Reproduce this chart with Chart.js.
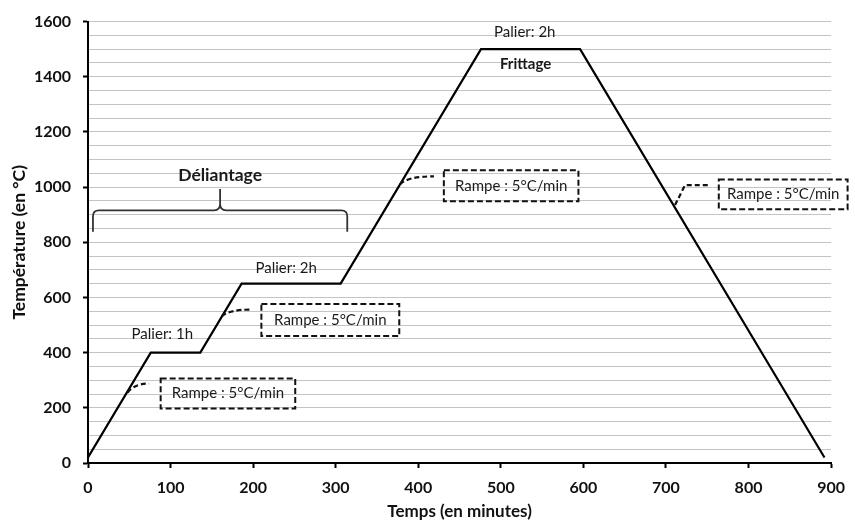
<!DOCTYPE html>
<html lang="fr">
<head>
<meta charset="utf-8">
<title>Cycle thermique</title>
<script src="https://cdn.jsdelivr.net/npm/chart.js@4.4.1/dist/chart.umd.min.js"></script>
<style>
    html, body { margin: 0; padding: 0; background: #fff; }
    #wrap { width: 855px; height: 520px; }
</style>
</head>
<body>
<div id="wrap"><canvas id="cycleChart" width="855" height="520"></canvas></div>
<script>
// Temps (min) et température (°C) du cycle
const timeMinutes = [0, 76, 136, 186, 306, 476, 596, 892];
const temperatures = [20, 400, 400, 650, 650, 1500, 1500, 20];
const xTickValues = [0, 100, 200, 300, 400, 500, 600, 700, 800, 900];
const yTickValues = [0, 200, 400, 600, 800, 1000, 1200, 1400, 1600];

// Annotations (positions in data units)
const notes = [
    { text: 'Palier: 1h', x: 90, y: 467 },
    { text: 'Palier: 2h', x: 240, y: 708 },
    { text: 'Palier: 2h', x: 529, y: 1560 },
    { text: 'Frittage', x: 530, y: 1445, bold: true },
    { text: 'Déliantage', x: 160, y: 1043, bold: true, size: 17.5 }
];
const rampBoxes = [
    { x0: 88, x1: 251, y0: 198, y1: 306, lead: [[48, 255], [56, 288], [74, 288]], curve: true },
    { x0: 210, x1: 377, y0: 460, y1: 576, lead: [[162, 532], [171, 556], [197, 556]], curve: true },
    { x0: 431, x1: 594, y0: 949, y1: 1061, lead: [[378, 1010], [387, 1039], [419, 1039]], curve: true },
    { x0: 764, x1: 920, y0: 920, y1: 1028, lead: [[711, 935], [723, 1007], [751, 1007]], curve: false }
];
const brace = { x0: 6, x1: 314, xc: 160, yTip: 838, yBar: 916, yPeak: 993 };

const annotationsPlugin = {
    id: 'annotations',
    afterDraw(chart) {
        const { ctx, scales: { x, y } } = chart;
        const px = v => x.getPixelForValue(v);
        const py = v => y.getPixelForValue(v);
        ctx.save();
        ctx.textAlign = 'center';
        ctx.textBaseline = 'middle';

        notes.forEach(n => {
            ctx.font = `${n.bold ? 'bold ' : ''}${n.size || 15}px Lato`;
            ctx.fillStyle = '#1a1a1a';
            ctx.fillText(n.text, px(n.x), py(n.y));
        });

        rampBoxes.forEach(b => {
            const l = px(b.x0), r = px(b.x1), t = py(b.y1), btm = py(b.y0);
            ctx.setLineDash([6, 3]);
            ctx.lineWidth = 2;
            ctx.strokeStyle = '#111';
            ctx.strokeRect(l, t, r - l, btm - t);
            ctx.setLineDash([5, 3]);
            ctx.lineWidth = 2.2;
            ctx.beginPath();
            const p = b.lead.map(([a, c]) => [px(a), py(c)]);
            ctx.moveTo(p[0][0], p[0][1]);
            if (b.curve) {
                ctx.quadraticCurveTo(p[1][0], p[1][1], p[2][0], p[2][1]);
            } else {
                ctx.lineTo(p[1][0], p[1][1]);
                ctx.lineTo(p[2][0], p[2][1]);
            }
            ctx.stroke();
            ctx.setLineDash([]);
            ctx.font = '15px Lato';
            ctx.fillStyle = '#1a1a1a';
            ctx.fillText('Rampe : 5°C/min', (l + r) / 2, (t + btm) / 2);
        });

        // accolade du déliantage
        const xl = px(brace.x0), xr = px(brace.x1), xc = px(brace.xc);
        const yTip = py(brace.yTip), yBar = py(brace.yBar), yPeak = py(brace.yPeak);
        const rad = 6;
        ctx.lineWidth = 1.8;
        ctx.strokeStyle = '#333';
        ctx.beginPath();
        ctx.moveTo(xl, yTip);
        ctx.lineTo(xl, yBar + rad);
        ctx.quadraticCurveTo(xl, yBar, xl + rad, yBar);
        ctx.lineTo(xc - rad, yBar);
        ctx.quadraticCurveTo(xc, yBar, xc, yBar - rad);
        ctx.lineTo(xc, yPeak);
        ctx.moveTo(xc, yBar - rad);
        ctx.quadraticCurveTo(xc, yBar, xc + rad, yBar);
        ctx.lineTo(xr - rad, yBar);
        ctx.quadraticCurveTo(xr, yBar, xr, yBar + rad);
        ctx.lineTo(xr, yTip);
        ctx.stroke();
        ctx.restore();
    }
};

document.addEventListener('DOMContentLoaded', () => {
    Chart.defaults.font.family = 'Lato';
    const ctx = document.getElementById('cycleChart').getContext('2d');
    new Chart(ctx, {
        type: 'line',
        data: {
            datasets: [{
                data: timeMinutes.map((t, i) => ({ x: t, y: temperatures[i] })),
                borderColor: '#000',
                borderWidth: 2.2,
                pointRadius: 0,
                tension: 0,
                fill: false
            }]
        },
        options: {
            responsive: false,
            animation: false,
            layout: { padding: { top: 15, right: 18, left: 0, bottom: 0 } },
            plugins: { legend: { display: false }, tooltip: { enabled: false } },
            scales: {
                x: {
                    type: 'linear',
                    min: 0,
                    max: 900,
                    afterBuildTicks: s => { s.ticks = xTickValues.map(v => ({ value: v })); },
                    afterFit: s => { s.height = 57; },
                    grid: { drawOnChartArea: false, tickLength: 5, tickWidth: 2, tickColor: '#000' },
                    border: { color: '#000', width: 2 },
                    ticks: { color: '#111', padding: 10, font: { size: 16, weight: 'bold' } },
                    title: { display: true, text: 'Temps (en minutes)', color: '#111', padding: { top: 0, bottom: 0 }, font: { size: 17, weight: 'bold', lineHeight: 1 } }
                },
                y: {
                    min: 0,
                    max: 1600,
                    afterFit: s => { s.width = 88; },
                    ticks: {
                        stepSize: 50,
                        autoSkip: false,
                        color: '#111',
                        padding: 12,
                        font: { size: 16, weight: 'bold' },
                        callback: v => yTickValues.includes(v) ? v : ''
                    },
                    grid: {
                        color: c => c.tick && c.tick.value === 0 ? 'transparent' : '#c4c4c4',
                        lineWidth: 1,
                        tickLength: 5,
                        tickWidth: 2,
                        tickColor: c => c.tick && yTickValues.includes(c.tick.value) ? '#000' : 'transparent'
                    },
                    border: { color: '#000', width: 2 },
                    title: { display: true, text: 'Température (en °C)', color: '#111', padding: { top: 9, bottom: 0 }, font: { size: 17.5, weight: 'bold', lineHeight: 1.2 } }
                }
            }
        },
        plugins: [annotationsPlugin]
    });
});
</script>
</body>
</html>
